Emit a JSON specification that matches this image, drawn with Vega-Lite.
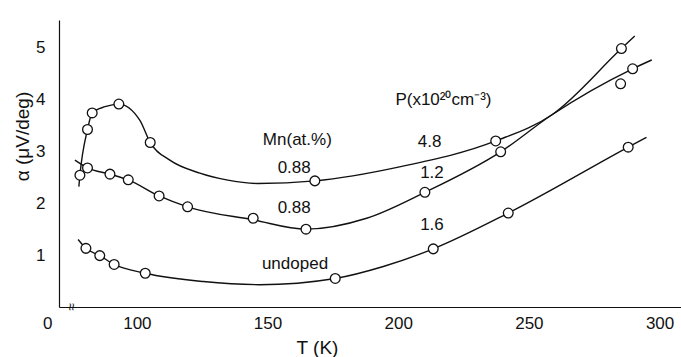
{
  "$schema": "https://vega.github.io/schema/vega-lite/v6.json",
  "width": 622,
  "height": 287,
  "autosize": {"type": "none"},
  "padding": {"left": 59, "top": 20, "right": 0, "bottom": 50},
  "background": "white",
  "config": {
    "view": {"stroke": null},
    "font": "Liberation Sans",
    "axis": {"grid": false, "domainColor": "#111", "domainWidth": 1.2, "tickColor": "#111", "tickWidth": 1.2, "labelColor": "#111", "titleColor": "#111", "labelFont": "Liberation Sans", "titleFont": "Liberation Sans", "titleFontWeight": "normal"}
  },
  "datasets": {
    "pts": [
      {"series": "A", "T": 78.2, "a": 2.54},
      {"series": "A", "T": 81.1, "a": 3.42},
      {"series": "A", "T": 82.9, "a": 3.74},
      {"series": "A", "T": 93.1, "a": 3.91},
      {"series": "A", "T": 105.1, "a": 3.17},
      {"series": "A", "T": 168.1, "a": 2.43},
      {"series": "A", "T": 237.3, "a": 3.2},
      {"series": "A", "T": 285.4, "a": 4.98},
      {"series": "B", "T": 81.1, "a": 2.68},
      {"series": "B", "T": 89.7, "a": 2.56},
      {"series": "B", "T": 96.7, "a": 2.45},
      {"series": "B", "T": 108.5, "a": 2.14},
      {"series": "B", "T": 119.4, "a": 1.93},
      {"series": "B", "T": 144.5, "a": 1.71},
      {"series": "B", "T": 164.7, "a": 1.5},
      {"series": "B", "T": 210.2, "a": 2.21},
      {"series": "B", "T": 239.2, "a": 2.99},
      {"series": "B", "T": 285.1, "a": 4.3},
      {"series": "B", "T": 289.7, "a": 4.59},
      {"series": "C", "T": 80.5, "a": 1.13},
      {"series": "C", "T": 85.8, "a": 0.99},
      {"series": "C", "T": 91.3, "a": 0.82},
      {"series": "C", "T": 103.2, "a": 0.65},
      {"series": "C", "T": 175.9, "a": 0.55},
      {"series": "C", "T": 213.4, "a": 1.12},
      {"series": "C", "T": 242.1, "a": 1.81},
      {"series": "C", "T": 288.0, "a": 3.08}
    ],
    "curve": [
      {"series": "A", "T": 77.8, "a": 2.32},
      {"series": "A", "T": 78.2, "a": 2.54},
      {"series": "A", "T": 81.1, "a": 3.42},
      {"series": "A", "T": 82.9, "a": 3.74},
      {"series": "A", "T": 87.8, "a": 3.86},
      {"series": "A", "T": 93.1, "a": 3.91},
      {"series": "A", "T": 101.1, "a": 3.6},
      {"series": "A", "T": 105.1, "a": 3.17},
      {"series": "A", "T": 112.6, "a": 2.83},
      {"series": "A", "T": 124.1, "a": 2.58},
      {"series": "A", "T": 134.3, "a": 2.45},
      {"series": "A", "T": 146.3, "a": 2.38},
      {"series": "A", "T": 168.1, "a": 2.43},
      {"series": "A", "T": 200.5, "a": 2.7},
      {"series": "A", "T": 237.3, "a": 3.2},
      {"series": "A", "T": 258.7, "a": 3.7},
      {"series": "A", "T": 285.4, "a": 4.98},
      {"series": "A", "T": 290.5, "a": 5.22},
      {"series": "B", "T": 76.3, "a": 2.83},
      {"series": "B", "T": 81.1, "a": 2.68},
      {"series": "B", "T": 89.7, "a": 2.56},
      {"series": "B", "T": 96.7, "a": 2.45},
      {"series": "B", "T": 108.5, "a": 2.14},
      {"series": "B", "T": 119.4, "a": 1.93},
      {"series": "B", "T": 144.5, "a": 1.68},
      {"series": "B", "T": 164.7, "a": 1.5},
      {"series": "B", "T": 187.9, "a": 1.71},
      {"series": "B", "T": 210.2, "a": 2.21},
      {"series": "B", "T": 239.2, "a": 2.99},
      {"series": "B", "T": 258.7, "a": 3.7},
      {"series": "B", "T": 289.7, "a": 4.59},
      {"series": "B", "T": 297.0, "a": 4.76},
      {"series": "C", "T": 77.5, "a": 1.3},
      {"series": "C", "T": 80.5, "a": 1.13},
      {"series": "C", "T": 85.8, "a": 0.99},
      {"series": "C", "T": 91.3, "a": 0.82},
      {"series": "C", "T": 103.2, "a": 0.65},
      {"series": "C", "T": 125.4, "a": 0.49},
      {"series": "C", "T": 147.0, "a": 0.43},
      {"series": "C", "T": 175.9, "a": 0.55},
      {"series": "C", "T": 194.3, "a": 0.78},
      {"series": "C", "T": 213.4, "a": 1.12},
      {"series": "C", "T": 242.1, "a": 1.81},
      {"series": "C", "T": 288.0, "a": 3.08},
      {"series": "C", "T": 295.0, "a": 3.27}
    ],
    "labels": [
      {"T": 217.3, "a": 3.98, "text": "P(x10²⁰cm⁻³)"},
      {"T": 161.4, "a": 3.22, "text": "Mn(at.%)"},
      {"T": 212.0, "a": 3.17, "text": "4.8"},
      {"T": 160.2, "a": 2.67, "text": "0.88"},
      {"T": 212.9, "a": 2.59, "text": "1.2"},
      {"T": 160.2, "a": 1.9, "text": "0.88"},
      {"T": 212.9, "a": 1.58, "text": "1.6"},
      {"T": 160.5, "a": 0.83, "text": "undoped"}
    ],
    "brk": [{"T": 74.7, "a": 0, "text": "≈"}],
    "xmajor": [{"T": 100}, {"T": 200}, {"T": 300}],
    "xminor": [{"T": 150}, {"T": 250}],
    "yticks": [{"a": 1}, {"a": 2}, {"a": 3}, {"a": 4}, {"a": 5}]
  },
  "encoding": {
    "x": {
      "field": "T", "type": "quantitative",
      "scale": {"domain": [70.2, 308.2], "nice": false, "zero": false},
      "axis": {
        "values": [100, 150, 200, 250, 300],
        "title": "T (K)",
        "titleFontSize": 19,
        "titleX": 258,
        "titleY": 40,
        "titleBaseline": "middle",
        "titleAlign": "center",
        "labelFontSize": 17,
        "labelPadding": 8,
        "ticks": false
      }
    },
    "y": {
      "field": "a", "type": "quantitative",
      "scale": {"domain": [0, 5.53], "nice": false, "zero": true},
      "axis": {
        "values": [0, 1, 2, 3, 4, 5],
        "title": "α (μV/deg)",
        "titleFontSize": 19,
        "titleX": -37,
        "titleY": 116,
        "titleAngle": -90,
        "titleBaseline": "middle",
        "titleAlign": "center",
        "labelFontSize": 17,
        "labelPadding": {"condition": {"test": "datum.value === 0", "value": 7}, "value": 14},
        "labelOffset": {"condition": {"test": "datum.value === 0", "value": 16}, "value": 0},
        "ticks": false
      }
    }
  },
  "layer": [
    {
      "data": {"name": "xmajor"},
      "mark": {"type": "rule", "color": "#111", "strokeWidth": 1.2},
      "encoding": {"y": {"datum": 0}, "y2": {"datum": 0.17}}
    },
    {
      "data": {"name": "xminor"},
      "mark": {"type": "rule", "color": "#111", "strokeWidth": 1.2},
      "encoding": {"y": {"datum": 0}, "y2": {"datum": 0.08}}
    },
    {
      "data": {"name": "yticks"},
      "mark": {"type": "rule", "color": "#111", "strokeWidth": 1.2},
      "encoding": {"x": {"datum": 70.2}, "x2": {"datum": 72.9}}
    },
    {
      "data": {"name": "curve"},
      "mark": {"type": "line", "interpolate": "monotone", "color": "#111", "strokeWidth": 1.4},
      "encoding": {"detail": {"field": "series"}}
    },
    {
      "data": {"name": "pts"},
      "mark": {"type": "point", "shape": "circle", "filled": true, "fill": "white", "stroke": "#111", "strokeWidth": 1.3, "size": 95, "opacity": 1}
    },
    {
      "data": {"name": "labels"},
      "mark": {"type": "text", "fontSize": 17, "align": "center", "baseline": "middle", "color": "#111"},
      "encoding": {"text": {"field": "text"}}
    },
    {
      "data": {"name": "brk"},
      "mark": {"type": "text", "fontSize": 14, "align": "center", "baseline": "middle", "angle": 90, "color": "#111"},
      "encoding": {"text": {"field": "text"}}
    }
  ]
}
